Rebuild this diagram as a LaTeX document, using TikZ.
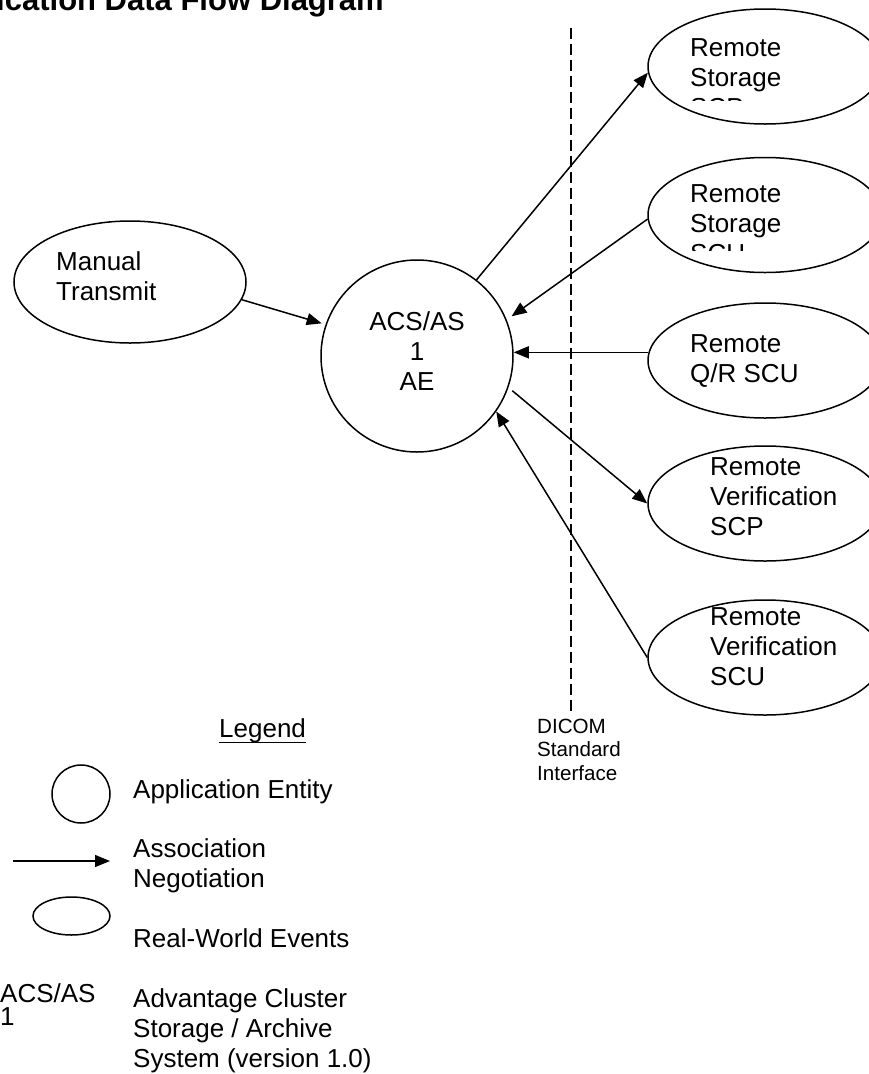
\documentclass[tikz,border=0pt]{standalone}
\usepackage{fontspec}
\setmainfont{Liberation Sans}
\usetikzlibrary{shapes.geometric,arrows.meta}

\tikzset{
  event/.style={draw, ellipse, line width=1.5pt, minimum width=234pt, minimum height=115pt, inner sep=0pt},
  flow/.style={-{Triangle[length=15pt,width=12pt]}, line width=1.5pt},
  txt/.style={anchor=base west, inner sep=0pt, align=left, font=\fontsize{26}{30}\selectfont},
}

\begin{document}
\begin{tikzpicture}[x=1pt,y=-1pt]
\useasboundingbox (0,0) rectangle (868,1074);

% heading, cut by the page top
\node[anchor=base east, inner sep=0pt, font=\bfseries\fontsize{31}{36}\selectfont] (title) at (384,10) {ication Data Flow Diagram};

% application entity
\node[draw, circle, line width=1.5pt, minimum size=192pt, inner sep=0pt, align=center, text depth=9pt,
      font=\fontsize{26}{30}\selectfont] (ae) at (417,356) {ACS/AS\\1\\AE};

% real-world events (text placed by its last line)
\node[event, minimum width=232pt, minimum height=122pt] (manual) at (130,282) {};
\node[txt] (manualtxt) at (56,300) {Manual\\Transmit};

\node[event] (storscp) at (765,66.5) {};
\node[event] (storscu) at (765,215) {};
\node[event] (qrscu) at (765,360.5) {};
\node[event] (verscp) at (765,503.5) {};
\node[event] (verscu) at (765,657.5) {};

\begin{scope}
  \clip (600,0) rectangle (868,100);
  \node[txt] (storscptxt) at (690,116) {Remote\\Storage\\SCP};
\end{scope}
\begin{scope}
  \clip (600,150) rectangle (868,250);
  \node[txt] (storscutxt) at (690,262) {Remote\\Storage\\SCU};
\end{scope}
\node[txt] (qrscutxt) at (690,382) {Remote\\Q/R SCU};
\node[txt] (verscptxt) at (710,535) {Remote\\Verification\\SCP};
\node[txt] (verscutxt) at (710,685) {Remote\\Verification\\SCU};

% DICOM boundary
\coordinate (dtop) at (571,28);
\coordinate (dbot) at (571,715);
\draw[line width=2.4pt, dash pattern=on 11pt off 5pt] (dtop) -- (dbot);
\node[anchor=base west, inner sep=0pt, align=left, font=\fontsize{20.6}{23.5}\selectfont] (dicom) at (537,780) {DICOM\\Standard\\Interface};

% associations
\draw[flow, shorten >=4pt] (manual.-9) -- (ae.161);
\draw[flow] (ae.52.7) -- (storscp.183);
\draw[flow, shorten >=6pt] (storscu.182) -- (ae.22);
\draw[flow] (qrscu.176) -- (qrscu.176 -| ae.east);
\draw[flow, shorten <=5pt] (ae.-19) -- (verscp.west);
\draw[flow] (verscu.west) -- (ae.-35);

% legend
\node[txt] (legendtxt) at (219,737) {Legend};
\draw[line width=1.3pt] (legendtxt.south west) -- (legendtxt.south east);

\node[draw, circle, line width=1.5pt, minimum size=58pt, inner sep=0pt] (legae) at (81,794) {};
\node[txt] (legaetxt) at (133,798) {Application Entity};

\coordinate (legfrom) at (13,861);
\coordinate (legto) at (110,861);
\draw[flow] (legfrom) -- (legto);
\node[txt] (legflowtxt) at (133,887) {Association\\Negotiation};

\node[draw, ellipse, line width=1.5pt, minimum width=77pt, minimum height=38pt, inner sep=0pt] (legevent) at (71.5,916) {};
\node[txt] (legeventtxt) at (133,947) {Real-World Events};

\node[txt, font=\fontsize{26}{23.5}\selectfont] (legacs) at (0,1025.5) {ACS/AS\\1};
\node[txt] (legacstxt) at (133,1067) {Advantage Cluster\\Storage / Archive\\System (version 1.0)};
\end{tikzpicture}
\end{document}
